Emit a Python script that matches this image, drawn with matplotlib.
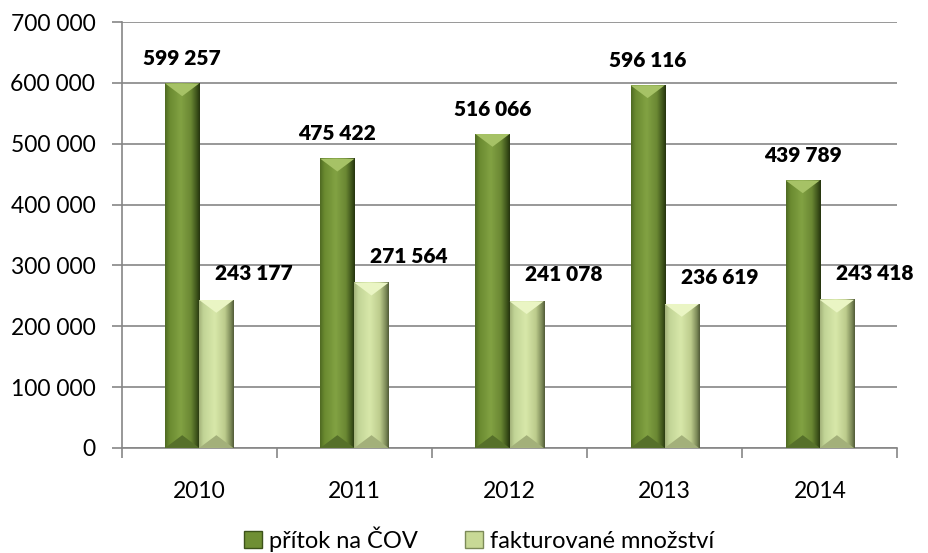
import matplotlib
matplotlib.use("Agg")
import matplotlib.pyplot as plt
import numpy as np
from matplotlib.patches import Polygon, Patch
from matplotlib.colors import LinearSegmentedColormap

years = ["2010", "2011", "2012", "2013", "2014"]
pritok = [599257, 475422, 516066, 596116, 439789]
fakturovane = [243177, 271564, 241078, 236619, 243418]
series_names = ["přítok na ČOV", "fakturované množství"]
yticks = [0, 100000, 200000, 300000, 400000, 500000, 600000, 700000]

plt.rcParams['font.family'] = ['Lato', 'DejaVu Sans']

fig = plt.figure(figsize=(9.29, 5.53), dpi=100)
ax = fig.add_axes([0.131, 0.190, 0.835, 0.770])

n = len(years)
x = np.arange(n)
bw = 0.22

dark_cmap = LinearSegmentedColormap.from_list(
    "d", [(0, "#4f6a22"), (0.12, "#6a8a30"), (0.45, "#82a243"), (0.75, "#6a8733"), (0.92, "#3c521a"), (1, "#26340f")])
light_cmap = LinearSegmentedColormap.from_list(
    "l", [(0, "#a3b27a"), (0.12, "#c2d496"), (0.45, "#d8e8aa"), (0.75, "#bccb8c"), (0.92, "#7c8a58"), (1, "#525c38")])

grad = np.linspace(0, 1, 64).reshape(1, -1)
ymax = 700000
bev = 0.030 * ymax


def draw_bar(xc, h, cmap, top_col, bot_col):
    x0, x1 = xc - bw / 2, xc + bw / 2
    ax.imshow(grad, cmap=cmap, extent=(x0, x1, 0, h), aspect='auto', zorder=3,
              interpolation='bicubic')
    ax.add_patch(Polygon([(x0, h), (x1, h), (xc, h - bev)], closed=True,
                         facecolor=top_col, edgecolor='none', zorder=4))
    ax.add_patch(Polygon([(x0, 0), (x1, 0), (xc, bev)], closed=True,
                         facecolor=bot_col, edgecolor='none', zorder=4))


for i in range(n):
    draw_bar(x[i] - bw / 2, pritok[i], dark_cmap, "#a6c266", "#56702a")
    draw_bar(x[i] + bw / 2, fakturovane[i], light_cmap, "#eaf5c4", "#a3b07a")


def fmt(v):
    return f"{v:,}".replace(",", " ")


for i in range(n):
    ax.annotate(fmt(pritok[i]), (x[i] - bw / 2, pritok[i]), xytext=(0, 18),
                textcoords='offset points', ha='center', va='center',
                fontsize=15, fontweight='heavy', zorder=5)
    ax.annotate(fmt(fakturovane[i]), (x[i] + bw / 2, fakturovane[i]), xytext=(27, 19),
                textcoords='offset points', ha='center', va='center',
                fontsize=15, fontweight='heavy', zorder=5)

ax.set_xlim(-0.5, n - 0.5)
ax.set_ylim(0, ymax)
ax.set_yticks(yticks)
ax.set_yticklabels([fmt(v) for v in yticks], fontsize=16.5)
ax.yaxis.grid(True, color="#868686", linewidth=1.2, zorder=0)
ax.set_axisbelow(True)

ax.set_xticks(x)
ax.set_xticklabels(years, fontsize=16.5)
ax.tick_params(axis='x', which='major', length=0, pad=24)
ax.set_xticks(np.arange(-0.5, n, 1), minor=True)
ax.tick_params(axis='x', which='minor', length=7, color="#868686", width=1.2, direction='out')
ax.tick_params(axis='y', length=7, color="#868686", width=1.2, direction='out', pad=12)

for s in ['top', 'right']:
    ax.spines[s].set_visible(False)
for s in ['left', 'bottom']:
    ax.spines[s].set_color("#868686")
    ax.spines[s].set_linewidth(1.2)

handles = [Patch(facecolor="#6f8f34", edgecolor="#3c521a"),
           Patch(facecolor="#c8d996", edgecolor="#7c8a58")]
fig.legend(handles, series_names, loc='center', bbox_to_anchor=(0.516, 0.025),
           ncol=2, frameon=False, fontsize=17, handlelength=0.75, handleheight=0.75,
           handletextpad=0.3, columnspacing=2.0)

fig.savefig("out.png", dpi=100)
